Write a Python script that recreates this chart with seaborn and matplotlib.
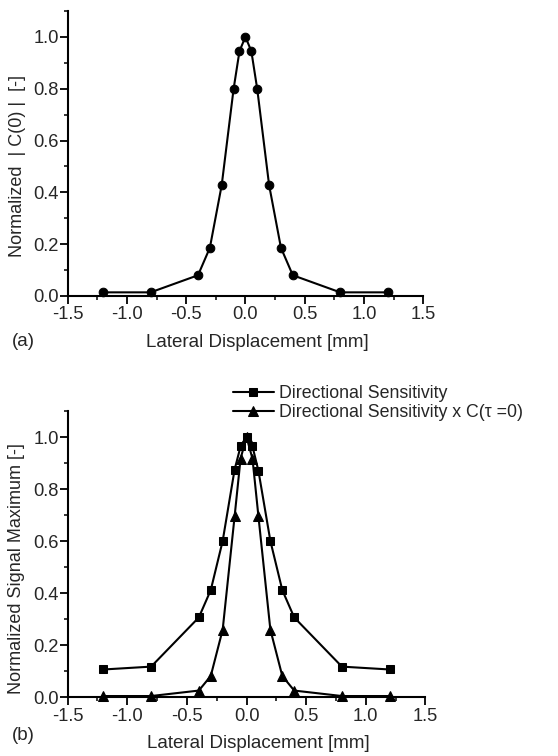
import numpy as np
import pandas as pd
import seaborn as sns
import matplotlib.pyplot as plt
from matplotlib.ticker import MultipleLocator

# lateral positions [mm]
x_pos = [-1.2, -0.8, -0.4, -0.3, -0.2, -0.1, -0.05, 0.0, 0.05, 0.1, 0.2, 0.3, 0.4, 0.8, 1.2]

# panel (a): normalized |C(0)|
c0_norm = [0.014, 0.014, 0.08, 0.186, 0.428, 0.798, 0.945, 1.0, 0.945, 0.798, 0.428, 0.186, 0.08, 0.014, 0.014]

# panel (b)
dir_sens = [0.107, 0.118, 0.307, 0.412, 0.601, 0.875, 0.964, 1.0, 0.964, 0.87, 0.601, 0.412, 0.307, 0.118, 0.107]
dir_sens_c = [0.005, 0.005, 0.026, 0.082, 0.26, 0.695, 0.917, 1.0, 0.917, 0.695, 0.26, 0.082, 0.026, 0.005, 0.005]

series_names = ["Directional Sensitivity", "Directional Sensitivity x C(\u03c4 =0)"]

sns.set_style("ticks")
plt.rcParams["font.family"] = ["Liberation Sans", "DejaVu Sans"]
plt.rcParams["axes.unicode_minus"] = False

TICK_FS = 13.2
LABEL_FS = 13.5

fig = plt.figure(figsize=(5.58, 7.56), dpi=100)
ax_a = fig.add_axes([0.1213, 0.6085, 0.637, 0.377])
ax_b = fig.add_axes([0.1213, 0.0776, 0.641, 0.3787])


def style_axes(ax):
    ax.set_xlim(-1.5, 1.5)
    ax.set_ylim(0, 1.1)
    ax.xaxis.set_major_locator(MultipleLocator(0.5))
    ax.xaxis.set_minor_locator(MultipleLocator(0.25))
    ax.yaxis.set_minor_locator(MultipleLocator(0.1))
    ax.set_yticks(np.arange(0, 1.01, 0.2))
    ax.tick_params(axis="x", which="major", pad=1.5)
    ax.tick_params(axis="y", which="major", pad=0.5)
    ax.tick_params(which="major", direction="out", length=6, width=1.3, labelsize=TICK_FS, color="black")
    ax.tick_params(which="minor", direction="out", length=3, width=1.1, color="black")
    for side in ["top", "right"]:
        ax.spines[side].set_visible(False)
    for side in ["left", "bottom"]:
        ax.spines[side].set_linewidth(1.5)
        ax.spines[side].set_color("black")


# (a)
df_a = pd.DataFrame({"x": x_pos, "y": c0_norm})
sns.lineplot(data=df_a, x="x", y="y", ax=ax_a, color="black", marker="o",
             markersize=6.2, markeredgecolor="black", linewidth=1.5, clip_on=False)
style_axes(ax_a)
ax_a.set_xlabel("Lateral Displacement [mm]", fontsize=LABEL_FS)
ax_a.set_ylabel("Normalized  | C(0) |  [-]", fontsize=13)
ax_a.xaxis.set_label_coords(0.534, -0.135)
ax_a.yaxis.set_label_coords(-0.118, 0.456)
fig.text(12 / 558, 1 - 342 / 756, "(a)", fontsize=LABEL_FS, va="center", ha="left")

# (b)
df_b = pd.DataFrame({
    "x": x_pos * 2,
    "y": dir_sens + dir_sens_c,
    "series": [series_names[0]] * len(x_pos) + [series_names[1]] * len(x_pos),
})
sns.lineplot(data=df_b, x="x", y="y", style="series", ax=ax_b, color="black",
             markers=["s", "^"], dashes=False, markersize=6, markeredgecolor="black",
             linewidth=1.5, clip_on=False)
# triangles are drawn a little larger than squares in the original
ax_b.lines[1].set_markersize(7)
style_axes(ax_b)
ax_b.set_xlabel("Lateral Displacement [mm]", fontsize=LABEL_FS)
ax_b.set_ylabel("Normalized Signal Maximum [-]", fontsize=13)
ax_b.xaxis.set_label_coords(0.534, -0.132)
ax_b.yaxis.set_label_coords(-0.12, 0.449)
fig.text(12 / 558, 1 - 736 / 756, "(b)", fontsize=LABEL_FS, va="center", ha="left")

handles, labels = ax_b.get_legend_handles_labels()
handles[1].set_markersize(7)
ax_b.legend(handles, labels, loc="upper left", bbox_to_anchor=(233 / 558, 1 - 385 / 756),
            bbox_transform=fig.transFigure, frameon=False, borderpad=0, borderaxespad=0,
            handlelength=2.3, handletextpad=0.3, labelspacing=0.1, fontsize=12.8)

fig.savefig("out.png", dpi=100)
